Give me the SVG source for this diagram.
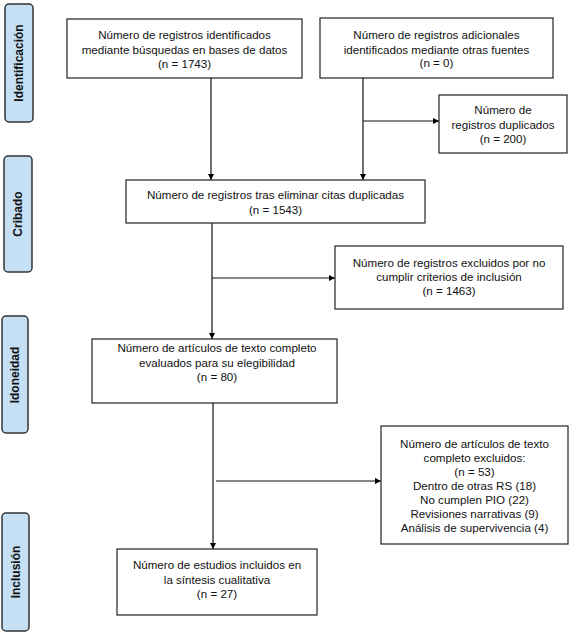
<svg xmlns="http://www.w3.org/2000/svg" width="584" height="637" viewBox="0 0 584 637">
<defs>
<marker id="ah" viewBox="0 0 10 10" refX="10" refY="5" markerWidth="6" markerHeight="6" markerUnits="userSpaceOnUse" orient="auto">
<path d="M0,0 L10,5 L0,10 z" fill="#000"/>
</marker>
</defs>
<style>
.box{fill:#fff;stroke:#222;stroke-width:1.2}
.side{fill:#c5e0f5;stroke:#333;stroke-width:1.5}
.t{font-family:"Liberation Sans",Arial,sans-serif;font-size:11.6px;fill:#111;text-anchor:middle}
.s{font-family:"Liberation Sans",Arial,sans-serif;font-size:12px;font-weight:bold;fill:#111;text-anchor:middle}
.c{fill:none;stroke:#111;stroke-width:1.2}
</style>
<rect width="584" height="637" fill="#fff"/>
<g id="side-identificacion"><rect class="side" x="5" y="4" width="28" height="118" rx="4"/><text class="s" transform="translate(23,63) rotate(-90)">Identificación</text></g>
<g id="side-cribado"><rect class="side" x="4" y="156" width="28" height="116" rx="4"/><text class="s" transform="translate(22,214) rotate(-90)">Cribado</text></g>
<g id="side-idoneidad"><rect class="side" x="2" y="316" width="26" height="117" rx="4"/><text class="s" transform="translate(19,375) rotate(-90)">Idoneidad</text></g>
<g id="side-inclusion"><rect class="side" x="2" y="513" width="27" height="118" rx="4"/><text class="s" transform="translate(20,572) rotate(-90)">Inclusión</text></g>
<g id="connectors">
<line class="c" x1="211" y1="78" x2="211" y2="180" marker-end="url(#ah)"/>
<line class="c" x1="363" y1="78" x2="363" y2="180" marker-end="url(#ah)"/>
<line class="c" x1="363" y1="121" x2="439" y2="121" marker-end="url(#ah)"/>
<line class="c" x1="212" y1="223" x2="212" y2="339" marker-end="url(#ah)"/>
<line class="c" x1="212" y1="278" x2="335" y2="278" marker-end="url(#ah)"/>
<line class="c" x1="213" y1="403" x2="213" y2="549" marker-end="url(#ah)"/>
<line class="c" x1="216" y1="481" x2="381" y2="481" marker-end="url(#ah)"/>
</g>
<g id="n1"><rect class="box" x="67" y="19" width="235" height="59"/>
<text class="t" x="184.5" y="39">Número de registros identificados</text>
<text class="t" x="184.5" y="54">mediante búsquedas en bases de datos</text>
<text class="t" x="184.5" y="68">(n = 1743)</text></g>
<g id="n2"><rect class="box" x="320" y="18" width="233" height="60"/>
<text class="t" x="436.5" y="39">Número de registros adicionales</text>
<text class="t" x="436.5" y="54">identificados mediante otras fuentes</text>
<text class="t" x="436.5" y="67">(n = 0)</text></g>
<g id="n-dup"><rect class="box" x="439" y="95" width="128" height="58"/>
<text class="t" x="503" y="114">Número de</text>
<text class="t" x="503" y="129">registros duplicados</text>
<text class="t" x="503" y="143">(n = 200)</text></g>
<g id="n3"><rect class="box" x="126" y="180" width="299" height="43"/>
<text class="t" x="275.5" y="199">Número de registros tras eliminar citas duplicadas</text>
<text class="t" x="275.5" y="214">(n = 1543)</text></g>
<g id="n-excl"><rect class="box" x="335" y="246" width="228" height="63"/>
<text class="t" x="449" y="267">Número de registros excluidos por no</text>
<text class="t" x="449" y="281">cumplir criterios de inclusión</text>
<text class="t" x="449" y="295">(n = 1463)</text></g>
<g id="n4"><rect class="box" x="92" y="339" width="245" height="64"/>
<text class="t" x="217" y="352">Número de artículos de texto completo</text>
<text class="t" x="217" y="367">evaluados para su elegibilidad</text>
<text class="t" x="217" y="381">(n = 80)</text></g>
<g id="n-excl2"><rect class="box" x="381" y="426" width="187" height="118"/>
<text class="t" x="474.5" y="448">Número de artículos de texto</text>
<text class="t" x="474.5" y="462">completo excluidos:</text>
<text class="t" x="474.5" y="476">(n = 53)</text>
<text class="t" x="474.5" y="490">Dentro de otras RS (18)</text>
<text class="t" x="474.5" y="504">No cumplen PIO (22)</text>
<text class="t" x="474.5" y="518">Revisiones narrativas (9)</text>
<text class="t" x="474.5" y="532">Análisis de supervivencia (4)</text></g>
<g id="n5"><rect class="box" x="117" y="549" width="200" height="66"/>
<text class="t" x="217" y="569">Número de estudios incluidos en</text>
<text class="t" x="217" y="584">la síntesis cualitativa</text>
<text class="t" x="217" y="598">(n = 27)</text></g>
</svg>
